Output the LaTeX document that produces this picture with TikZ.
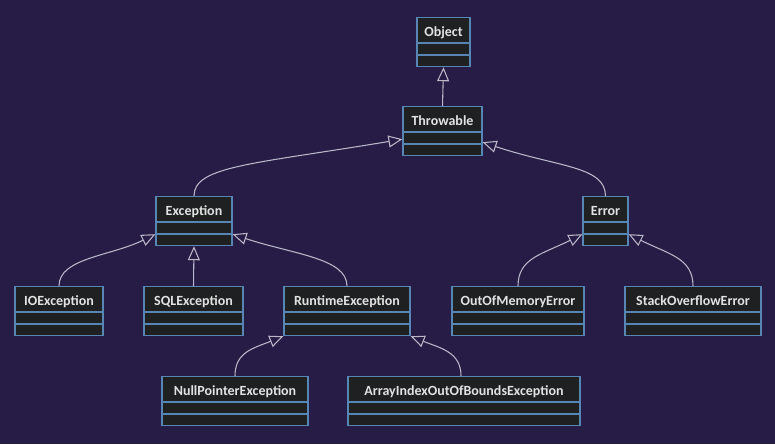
\documentclass[tikz,border=0pt]{standalone}
\usepackage{fontspec}
\setmainfont{Carlito}
\usepackage{tikz}
\usetikzlibrary{arrows.meta, calc}
\definecolor{UMLBack}{RGB}{38,28,69}
\definecolor{UMLFill}{RGB}{31,32,33}
\definecolor{UMLEdge}{RGB}{88,134,180}
\definecolor{UMLText}{RGB}{226,226,226}
\definecolor{UMLLine}{RGB}{185,183,200}

\begin{document}
\begin{tikzpicture}[x=0.75pt, y=-0.75pt,
          cls/.style={rectangle, draw=UMLEdge, fill=UMLFill, line width=0.9pt,
                      inner sep=0pt, anchor=north, text=UMLText,
                      text height=14.25pt, text depth=22.5pt,
                      font=\fontsize{10.5}{12}\selectfont\bfseries},
          sep/.style={draw=UMLEdge, line width=0.9pt},
          inh/.style={-{Triangle[open, length=10.5pt, width=9pt]},
                      draw=UMLLine, line width=0.8pt}
        ]
        % background
        \fill[UMLBack] (0,0) rectangle (775,444);
        \useasboundingbox (0,0) rectangle (775,444);

        % classes
        \node[cls, minimum width=53pt*0.75]  (obj) at (443.5,17)  {Object};
        \node[cls, minimum width=79pt*0.75]  (thr) at (442.5,106) {Throwable};
        \node[cls, minimum width=76pt*0.75]  (exc) at (194,196)   {Exception};
        \node[cls, minimum width=45pt*0.75]  (err) at (605.5,196) {Error};
        \node[cls, minimum width=88pt*0.75]  (ioe) at (59,286)    {IOException};
        \node[cls, minimum width=99pt*0.75]  (sql) at (193.5,286) {SQLException};
        \node[cls, minimum width=126pt*0.75] (rte) at (347,286)   {RuntimeException};
        \node[cls, minimum width=132pt*0.75] (oom) at (518,286)   {OutOfMemoryError};
        \node[cls, minimum width=136pt*0.75] (soe) at (693,286)   {StackOverflowError};
        \node[cls, minimum width=146pt*0.75] (npe) at (235,376)   {NullPointerException};
        \node[cls, minimum width=232pt*0.75] (aio) at (464,376)   {ArrayIndexOutOfBoundsException};

        % attribute / method compartments
        \foreach \n in {obj,thr,exc,err,ioe,sql,rte,oom,soe,npe,aio} {
          \draw[sep] ($(\n.north west)+(0,26)$) -- ($(\n.north east)+(0,26)$);
          \draw[sep] ($(\n.north west)+(0,38)$) -- ($(\n.north east)+(0,38)$);
        }

        % inheritance
        \draw[inh] (thr.north) -- (obj.south);
        \draw[inh] (exc.north) .. controls +(0,-30) and +(-150,25)
              .. ($(thr.south west)+(0,-17)$);
        \draw[inh] (err.north) .. controls +(0,-30) and +(75,25)
              .. ($(thr.south east)+(0,-14)$);
        \draw[inh] (ioe.north) .. controls +(0,-28) and +(-45,22)
              .. ($(exc.south west)+(0,-12)$);
        \draw[inh] (sql.north) -- (exc.south);
        \draw[inh] (rte.north) .. controls +(0,-28) and +(60,20)
              .. ($(exc.south east)+(0,-12)$);
        \draw[inh] (oom.north) .. controls +(0,-28) and +(-40,20)
              .. ($(err.south west)+(0,-12)$);
        \draw[inh] (soe.north) .. controls +(0,-28) and +(40,20)
              .. ($(err.south east)+(0,-12)$);
        \draw[inh] (npe.north) .. controls +(0,-24) and +(-30,12)
              .. (rte.south west);
        \draw[inh] ($(aio.north)+(-3,0)$) .. controls +(0,-24) and +(30,12)
              .. (rte.south east);
      \end{tikzpicture}
\end{document}
